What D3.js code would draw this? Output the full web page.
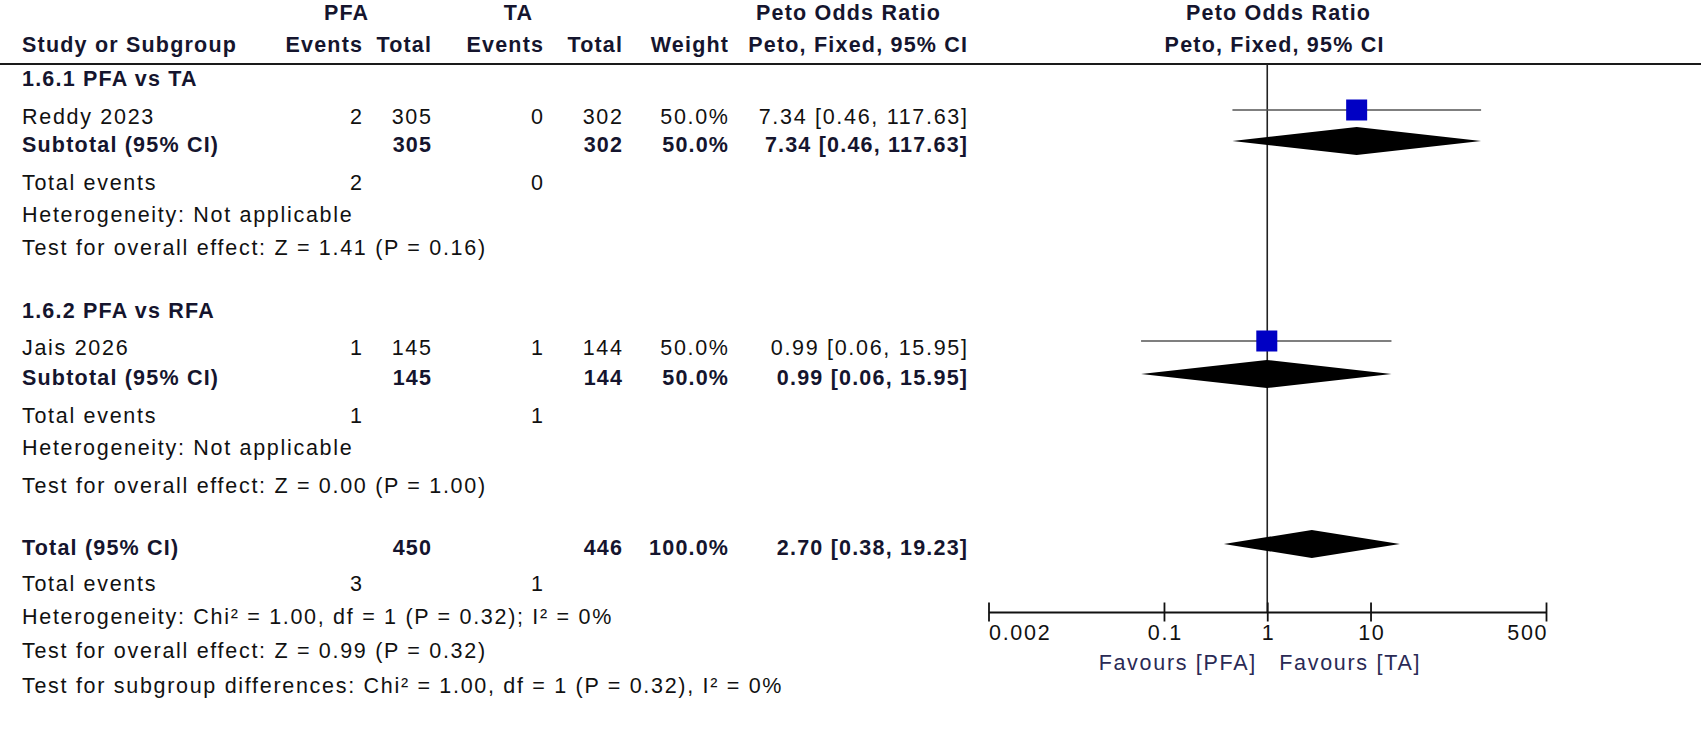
<!DOCTYPE html>
<html>
<head>
<meta charset="utf-8">
<script src="https://cdn.jsdelivr.net/npm/d3@7"></script>
<style>
  html, body { margin: 0; padding: 0; background: #fff; }
  svg text { font-family: "Liberation Sans", Arial, sans-serif; }
</style>
</head>
<body>
<svg id="chart" width="1701" height="754"></svg>
<script>
// ---------------- DATA ----------------
const subgroupLabels = ["1.6.1 PFA vs TA", "1.6.2 PFA vs RFA"];
const studyNames = ["Reddy 2023", "Jais 2026"];
const pfaEvents = [2, 1];
const pfaTotals = [305, 145];
const taEvents = [0, 1];
const taTotals = [302, 144];
const studyWeights = ["50.0%", "50.0%"];
const studyOR = [7.34, 0.99];
const studyLow = [0.46, 0.06];
const studyHigh = [117.63, 15.95];
const subtotalOR = [7.34, 0.99];
const subtotalLow = [0.46, 0.06];
const subtotalHigh = [117.63, 15.95];
const subgroupHetText = ["Heterogeneity: Not applicable", "Heterogeneity: Not applicable"];
const subgroupTestText = ["Test for overall effect: Z = 1.41 (P = 0.16)", "Test for overall effect: Z = 0.00 (P = 1.00)"];
const overallValues = [2.70, 0.38, 19.23];   // OR, low, high
const overallTotals = [450, 446];
const overallWeight = "100.0%";
const overallEvents = [3, 1];
const overallTexts = [
  "Heterogeneity: Chi\u00B2 = 1.00, df = 1 (P = 0.32); I\u00B2 = 0%",
  "Test for overall effect: Z = 0.99 (P = 0.32)",
  "Test for subgroup differences: Chi\u00B2 = 1.00, df = 1 (P = 0.32), I\u00B2 = 0%"
];
const axisTicks = [0.002, 0.1, 1, 10, 500];
const axisTickLabels = ["0.002", "0.1", "1", "10", "500"];
const favoursLabels = ["Favours [PFA]", "Favours [TA]"];

// ---------------- LAYOUT ----------------
const W = 1701, H = 754;
const svg = d3.select("#chart");
const FS = 21.5, LS = 1.7, LSB = 1.2;
const boldColor = "#15152e", normalColor = "#111";
const col = { study: 22, pfaEv: 362, pfaTot: 431, taEv: 543, taTot: 622, weight: 728, ci: 967 };
const x = d3.scaleLog().domain([0.002, 500]).range([988.5, 1546]);
const plotTop = 64, axisY = 612;

const groupRows = [
  { title: 78, study: 116, sub: 144, ev: 182, het: 214, test: 247 },
  { title: 310, study: 347, sub: 377, ev: 415, het: 447, test: 485 }
];
const overallRows = { total: 547, ev: 583, het: 616, test: 650, sg: 685 };

function txt(xp, yc, s, opts = {}) {
  const ls = opts.bold ? LSB : LS;
  // compensate trailing letter-spacing for end-anchored text
  const dx = opts.anchor === "end" ? ls : (opts.anchor === "middle" ? ls / 2 : 0);
  return svg.append("text")
    .attr("x", xp + dx).attr("y", yc).attr("dy", "0.36em")
    .attr("text-anchor", opts.anchor || "start")
    .attr("font-size", FS)
    .attr("letter-spacing", ls)
    .attr("font-weight", opts.bold ? "bold" : "normal")
    .attr("fill", opts.color || (opts.bold ? boldColor : normalColor))
    .text(s);
}
function fmt(v) { return v.toFixed(2); }
function ciText(o, l, h) { return `${fmt(o)} [${fmt(l)}, ${fmt(h)}]`; }

// ---------------- HEADER ----------------
txt(346, 12, "PFA", { bold: true, anchor: "middle" });
txt(518, 12, "TA", { bold: true, anchor: "middle" });
txt(848, 12, "Peto Odds Ratio", { bold: true, anchor: "middle" });
txt(1278, 12, "Peto Odds Ratio", { bold: true, anchor: "middle" });
txt(col.study, 44, "Study or Subgroup", { bold: true });
txt(col.pfaEv, 44, "Events", { bold: true, anchor: "end" });
txt(col.pfaTot, 44, "Total", { bold: true, anchor: "end" });
txt(col.taEv, 44, "Events", { bold: true, anchor: "end" });
txt(col.taTot, 44, "Total", { bold: true, anchor: "end" });
txt(col.weight, 44, "Weight", { bold: true, anchor: "end" });
txt(col.ci, 44, "Peto, Fixed, 95% CI", { bold: true, anchor: "end" });
txt(1274, 44, "Peto, Fixed, 95% CI", { bold: true, anchor: "middle" });

svg.append("line").attr("x1", 0).attr("x2", W).attr("y1", plotTop).attr("y2", plotTop)
  .attr("stroke", "#1a1a1a").attr("stroke-width", 2.2);

// null line
svg.append("line").attr("x1", x(1)).attr("x2", x(1)).attr("y1", plotTop).attr("y2", axisY)
  .attr("stroke", "#222").attr("stroke-width", 1.6);

function diamond(yc, o, l, h, half) {
  const pts = [[x(l), yc], [x(o), yc - half], [x(h), yc], [x(o), yc + half]];
  svg.append("polygon").attr("points", pts.map(p => p.join(",")).join(" ")).attr("fill", "#000");
}

// ---------------- SUBGROUPS ----------------
groupRows.forEach((r, i) => {
  txt(col.study, r.title, subgroupLabels[i], { bold: true });
  txt(col.study, r.study, studyNames[i]);
  txt(col.pfaEv, r.study, pfaEvents[i], { anchor: "end" });
  txt(col.pfaTot, r.study, pfaTotals[i], { anchor: "end" });
  txt(col.taEv, r.study, taEvents[i], { anchor: "end" });
  txt(col.taTot, r.study, taTotals[i], { anchor: "end" });
  txt(col.weight, r.study, studyWeights[i], { anchor: "end" });
  txt(col.ci, r.study, ciText(studyOR[i], studyLow[i], studyHigh[i]), { anchor: "end" });

  txt(col.study, r.sub, "Subtotal (95% CI)", { bold: true });
  txt(col.pfaTot, r.sub, pfaTotals[i], { bold: true, anchor: "end" });
  txt(col.taTot, r.sub, taTotals[i], { bold: true, anchor: "end" });
  txt(col.weight, r.sub, studyWeights[i], { bold: true, anchor: "end" });
  txt(col.ci, r.sub, ciText(subtotalOR[i], subtotalLow[i], subtotalHigh[i]), { bold: true, anchor: "end" });

  txt(col.study, r.ev, "Total events");
  txt(col.pfaEv, r.ev, pfaEvents[i], { anchor: "end" });
  txt(col.taEv, r.ev, taEvents[i], { anchor: "end" });
  txt(col.study, r.het, subgroupHetText[i]);
  txt(col.study, r.test, subgroupTestText[i]);

  // CI line and square
  const my = r.study - 6;
  svg.append("line").attr("x1", x(studyLow[i])).attr("x2", x(studyHigh[i]))
    .attr("y1", my).attr("y2", my)
    .attr("stroke", "#555").attr("stroke-width", 1.6);
  const s = 21;
  svg.append("rect").attr("x", x(studyOR[i]) - s / 2).attr("y", my - s / 2)
    .attr("width", s).attr("height", s).attr("fill", "#0000c4");
  diamond(r.sub - 3, subtotalOR[i], subtotalLow[i], subtotalHigh[i], 14);
});

// ---------------- OVERALL ----------------
const o = overallRows;
txt(col.study, o.total, "Total (95% CI)", { bold: true });
txt(col.pfaTot, o.total, overallTotals[0], { bold: true, anchor: "end" });
txt(col.taTot, o.total, overallTotals[1], { bold: true, anchor: "end" });
txt(col.weight, o.total, overallWeight, { bold: true, anchor: "end" });
txt(col.ci, o.total, ciText(overallValues[0], overallValues[1], overallValues[2]), { bold: true, anchor: "end" });
txt(col.study, o.ev, "Total events");
txt(col.pfaEv, o.ev, overallEvents[0], { anchor: "end" });
txt(col.taEv, o.ev, overallEvents[1], { anchor: "end" });
txt(col.study, o.het, overallTexts[0]);
txt(col.study, o.test, overallTexts[1]);
txt(col.study, o.sg, overallTexts[2]);
diamond(o.total - 3, overallValues[0], overallValues[1], overallValues[2], 14);

// ---------------- AXIS ----------------
const axis = d3.axisBottom(x).tickValues(axisTicks)
  .tickFormat((d, i) => axisTickLabels[i]).tickSize(9.5).tickSizeOuter(0).tickPadding(4);
const gA = svg.append("g").attr("transform", `translate(0,${axisY})`).call(axis);
gA.select(".domain").attr("stroke", "#111").attr("stroke-width", 1.8);
gA.selectAll(".tick line").attr("y1", -9.5).attr("y2", 9.5).attr("stroke", "#111").attr("stroke-width", 1.8);
gA.selectAll(".tick text")
  .attr("font-family", "'Liberation Sans', Arial, sans-serif")
  .attr("font-size", FS).attr("letter-spacing", LS).attr("fill", "#111")
  .attr("dy", null).attr("y", 20.5).attr("dominant-baseline", "central")
  .attr("text-anchor", (d, i) => i === 0 ? "start" : (i === axisTicks.length - 1 ? "end" : "middle"))
  .attr("x", (d, i) => i === 0 ? 0 : (i === axisTicks.length - 1 ? LS : LS / 2));

txt(x(1) - 12, 662, favoursLabels[0], { anchor: "end", color: "#2a2a55" });
txt(x(1) + 12, 662, favoursLabels[1], { anchor: "start", color: "#2a2a55" });
</script>
</body>
</html>
